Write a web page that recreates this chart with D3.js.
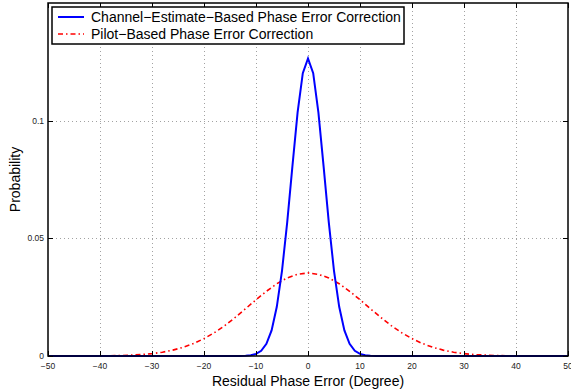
<!DOCTYPE html>
<html>
<head>
<meta charset="utf-8">
<script src="https://cdn.jsdelivr.net/npm/d3@7"></script>
<style>
  body { margin: 0; background: #fff; }
  svg { display: block; font-family: "Liberation Sans", Arial, Helvetica, sans-serif; }
</style>
</head>
<body>
<script>
// Angles (degrees) and probabilities
const chanAngles = [-50, -14, -13, -12, -11, -10, -9, -8, -7, -6, -5, -4, -3, -2, -1, 0,
                    1, 2, 3, 4, 5, 6, 7, 8, 9, 10, 11, 12, 13, 14, 50]
const chanProb = [0, 0, 0, 0.0001, 0.0003, 0.0009, 0.0022, 0.0052, 0.0109, 0.0209, 0.0362, 0.0568, 0.0806, 0.1035, 0.1202, 0.1264,
                  0.1202, 0.1035, 0.0806, 0.0568, 0.0362, 0.0209, 0.0109, 0.0052, 0.0022, 0.0009, 0.0003, 0.0001, 0, 0, 0]

const pilotAngles = [-50, -48, -46, -44, -42, -40, -38, -36, -34, -32, -30, -28, -26, -24, -22, -20, -18, -16, -14, -12, -10,
                     -8, -6, -4, -2, 0, 2, 4, 6, 8, 10, 12, 14, 16, 18, 20, 22, 24, 26, 28, 30,
                     32, 34, 36, 38, 40, 42, 44, 46, 48, 50]
const pilotProb = [0, 0, 0, 0, 0, 0.0001, 0.0001, 0.0002, 0.0004, 0.0006, 0.0010, 0.0016, 0.0025, 0.0037, 0.0053, 0.0074, 0.0099, 0.0129, 0.0164, 0.0201, 0.0239,
                   0.0275, 0.0307, 0.0332, 0.0347, 0.0353, 0.0347, 0.0332, 0.0307, 0.0275, 0.0239, 0.0201, 0.0164, 0.0129, 0.0099, 0.0074, 0.0053, 0.0037, 0.0025, 0.0016, 0.0010,
                   0.0006, 0.0004, 0.0002, 0.0001, 0.0001, 0, 0, 0, 0, 0]

const xTicks = [-50, -40, -30, -20, -10, 0, 10, 20, 30, 40, 50]
const yTicks = [0, 0.05, 0.1]
const seriesNames = ["Channel\u2212Estimate\u2212Based Phase Error Correction", "Pilot\u2212Based Phase Error Correction"]

const W = 571, H = 390
const margin = { top: 3, right: 3, bottom: 34, left: 48 }

const svg = d3.select("body").append("svg")
    .attr("width", W)
    .attr("height", H)

const x = d3.scaleLinear().domain([-50, 50]).range([margin.left, W - margin.right])
const y = d3.scaleLinear().domain([0, 0.15]).range([H - margin.bottom, margin.top])

// grid (dotted)
const grid = svg.append("g").attr("stroke", "#8a8a8a").attr("stroke-width", 0.8).attr("stroke-dasharray", "1,3")
grid.selectAll(".gx").data(xTicks.slice(1, -1)).join("line")
    .attr("x1", d => Math.round(x(d)) + 0.5).attr("x2", d => Math.round(x(d)) + 0.5)
    .attr("y1", y(0.15)).attr("y2", y(0))
grid.selectAll(".gy").data(yTicks.slice(1)).join("line")
    .attr("x1", x(-50)).attr("x2", x(50))
    .attr("y1", d => Math.round(y(d)) + 0.5).attr("y2", d => Math.round(y(d)) + 0.5)

// curves
const line = d3.line().x(d => x(d[0])).y(d => y(d[1]))

svg.append("path")
    .datum(pilotAngles.map((a, i) => [a, pilotProb[i]]))
    .attr("d", line)
    .attr("fill", "none")
    .attr("stroke", "#ff0000")
    .attr("stroke-width", 1.6)
    .attr("stroke-dasharray", "5,3,1.5,3")

svg.append("path")
    .datum(chanAngles.map((a, i) => [a, chanProb[i]]))
    .attr("d", line)
    .attr("fill", "none")
    .attr("stroke", "#0000ff")
    .attr("stroke-width", 2)

// axes with inward ticks (MATLAB style)
const tickLen = 5
const axes = svg.append("g").attr("stroke", "#000").attr("stroke-width", 1)
xTicks.forEach(t => {
    const px = Math.round(x(t)) + 0.5
    axes.append("line").attr("x1", px).attr("x2", px).attr("y1", y(0)).attr("y2", y(0) - tickLen)
    axes.append("line").attr("x1", px).attr("x2", px).attr("y1", y(0.15)).attr("y2", y(0.15) + tickLen)
})
yTicks.forEach(t => {
    const py = Math.round(y(t)) + 0.5
    axes.append("line").attr("x1", x(-50)).attr("x2", x(-50) + tickLen).attr("y1", py).attr("y2", py)
    axes.append("line").attr("x1", x(50)).attr("x2", x(50) - tickLen).attr("y1", py).attr("y2", py)
})
svg.append("rect")
    .attr("x", x(-50)).attr("y", y(0.15))
    .attr("width", x(50) - x(-50)).attr("height", y(0) - y(0.15))
    .attr("fill", "none").attr("stroke", "#000").attr("stroke-width", 1.5)

// tick labels
const fmtX = d => d < 0 ? "\u2212" + Math.abs(d) : String(d)
svg.append("g").selectAll("text").data(xTicks).join("text")
    .attr("x", d => x(d)).attr("y", y(0) + 13)
    .attr("text-anchor", "middle")
    .attr("font-size", 8.5).attr("fill", "#222")
    .text(fmtX)
svg.append("g").selectAll("text").data(yTicks).join("text")
    .attr("x", x(-50) - 4).attr("y", d => y(d) + 3)
    .attr("text-anchor", "end")
    .attr("font-size", 8.5).attr("fill", "#222")
    .text(d => d3.format("~g")(d))

// axis labels
svg.append("text")
    .attr("x", x(0)).attr("y", H - 4)
    .attr("text-anchor", "middle").attr("font-size", 14)
    .text("Residual Phase Error (Degree)")
svg.append("text")
    .attr("transform", `translate(20,${y(0.075)}) rotate(-90)`)
    .attr("text-anchor", "middle").attr("font-size", 14)
    .text("Probability")

// legend
const lg = svg.append("g")
lg.append("rect")
    .attr("x", 52).attr("y", 7).attr("width", 352).attr("height", 37)
    .attr("fill", "#fff").attr("stroke", "#000").attr("stroke-width", 1.5)
const legendStyles = [{ c: "#0000ff", w: 2, dash: null }, { c: "#ff0000", w: 1.6, dash: "5,3,1.5,3" }]
seriesNames.forEach((name, i) => {
    const cy = 17 + i * 17
    lg.append("line")
        .attr("x1", 58).attr("x2", 84).attr("y1", cy).attr("y2", cy)
        .attr("stroke", legendStyles[i].c).attr("stroke-width", legendStyles[i].w)
        .attr("stroke-dasharray", legendStyles[i].dash)
    lg.append("text")
        .attr("x", 91).attr("y", cy + 5)
        .attr("font-size", 14)
        .text(name)
})
</script>
</body>
</html>
